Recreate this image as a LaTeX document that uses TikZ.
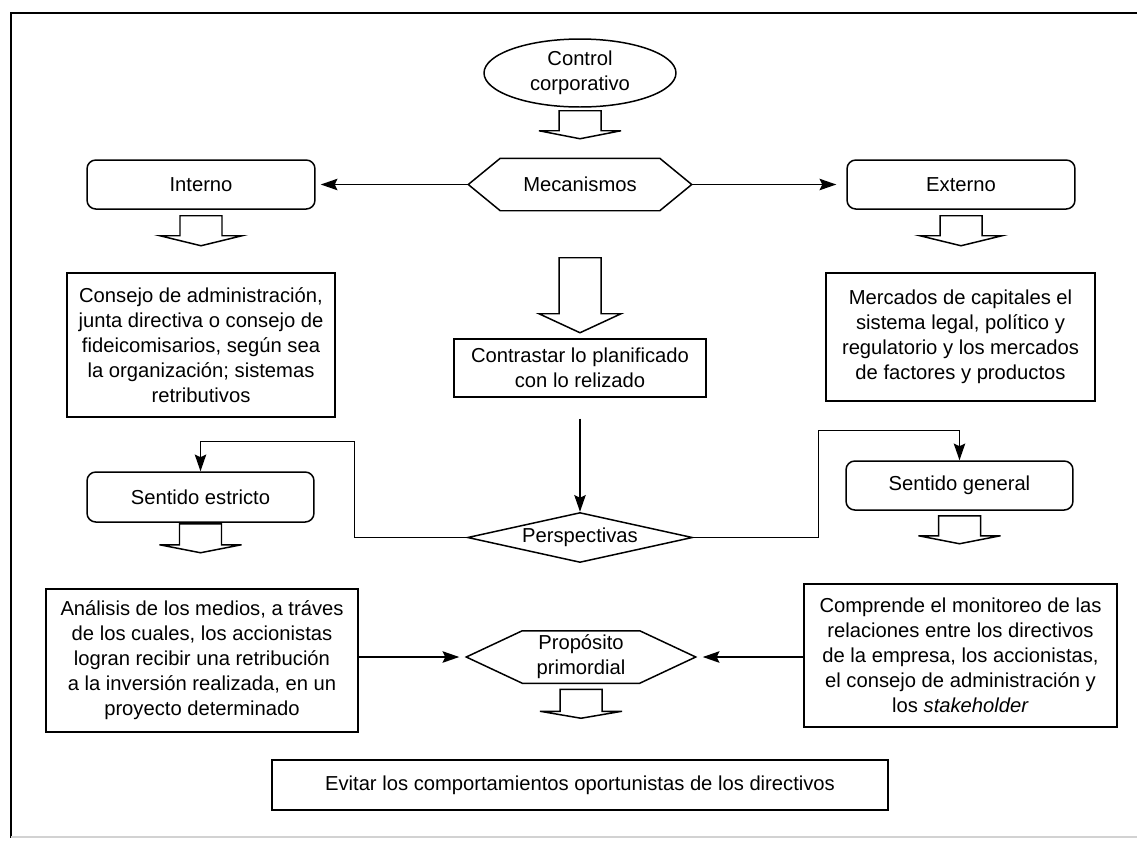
\documentclass[tikz,border=0pt]{standalone}
\usepackage{fontspec}
\setmainfont{Liberation Sans}
\usetikzlibrary{shapes.geometric,arrows.meta,calc}

% hollow down arrow under a node: anchor, gap, shaft length, head length
\newcommand\blockdown[4]{%
  \draw[blk] ([shift={(-21,#2)}]#1) -- ++(0,#3) -- ++(-20,0) -- ++(41,#4) -- ++(41,-#4) -- ++(-20,0) -- ++(0,-#3) -- cycle;}
% six-sided frame round a node: name, cut at the corners
\newcommand\hexframe[2]{%
  \draw (#1.west) -- ([xshift=#2]#1.north west) -- ([xshift=-#2]#1.north east) -- (#1.east)
    -- ([xshift=-#2]#1.south east) -- ([xshift=#2]#1.south west) -- cycle;}

\begin{document}
\begin{tikzpicture}[x=0.02cm, y=-0.02cm, font=\fontsize{11.5}{14.2}\selectfont, line width=0.85pt,
    box/.style ={draw, align=center, inner sep=2pt},
    rbox/.style={draw, rounded corners=5pt, align=center},
    hexa/.style={align=center, inner sep=0pt, minimum height=1.02cm},
    conn/.style={-{Stealth[length=9.5pt,width=6.5pt,inset=1.5pt]}},
    blk/.style ={line width=0.85pt},
  ]
  \useasboundingbox (0,0) rectangle (1137,840);
  \draw[line width=1.2pt] (1137,13) -- (11,13) -- (11,838);
  \draw[gray!35] (11,837) -- (1137,837);

  % control and mechanisms
  \node[draw, ellipse, minimum width=3.84cm, minimum height=1.36cm, inner sep=0pt, align=center] (ctrl) at (580,73) {Control\\corporativo};
  \node[hexa, minimum width=4.44cm] (mec) at (580,184.5) {Mecanismos};
  \hexframe{mec}{0.64cm}
  \node[rbox, minimum width=4.56cm, minimum height=0.98cm] (intr) at (201,184.5) {Interno};
  \node[rbox, minimum width=4.56cm, minimum height=0.98cm] (extr) at (961,184.5) {Externo};
  \draw[conn, shorten >=0.1cm] (mec.west) -- (intr.east);
  \draw[conn, shorten >=0.2cm] (mec.east) -- (extr.west);
  \blockdown{ctrl.south}{3}{20}{8}
  \blockdown{intr.south}{6}{20}{10}
  \blockdown{extr.south}{6}{20}{10}
  \blockdown{mec.south}{47}{56}{19}

  % text boxes under the mechanisms
  \node[box, minimum width=5.36cm, minimum height=2.88cm] (cons) at (201,345)
    {Consejo de administración,\\junta directiva o consejo de\\fideicomisarios, según sea\\la organización; sistemas\\retributivos};
  \node[box, minimum width=5.38cm, minimum height=2.56cm] (merc) at (960.5,337)
    {Mercados de capitales el\\sistema legal, político y\\regulatorio y los mercados\\de factores y productos};
  \node[box, minimum width=5.04cm, minimum height=1.16cm] (contr) at (580,368)
    {Contrastar lo planificado\\con lo relizado};

  % perspectives
  \node[draw, diamond, aspect=4.5, minimum width=4.5cm, minimum height=1cm, inner sep=0pt] (persp) at (580,537.5) {Perspectivas};
  \node[rbox, minimum width=4.54cm, minimum height=1cm] (estr) at (200.5,497) {Sentido estricto};
  \node[rbox, minimum width=4.54cm, minimum height=0.98cm] (genl) at (959.5,485.5) {Sentido general};
  \draw[conn] ([yshift=-0.42cm]contr.south) -- (persp.north);
  \draw[conn] (persp.west) -| ($(estr.north)+(154,-30)$) -| (estr.north);
  \draw[conn] (persp.east) -| ($(genl.north)+(-141,-30)$) -| (genl.north);
  \blockdown{estr.south}{1}{21}{8}
  \blockdown{genl.south}{5}{20}{8}

  % purpose
  \node[box, minimum width=6.24cm, minimum height=2.86cm] (anal) at (202,660.5)
    {Análisis de los medios, a tráves\\de los cuales, los accionistas\\logran recibir una retribución\\a la inversión realizada, en un\\proyecto determinado};
  \node[box, minimum width=6.26cm, minimum height=2.86cm] (comp) at (960.5,655.5)
    {Comprende el monitoreo de las\\relaciones entre los directivos\\de la empresa, los accionistas,\\el consejo de administración y\\los \textit{stakeholder}};
  \node[hexa, minimum width=4.56cm] (prop) at (581,657) {Propósito\\primordial};
  \hexframe{prop}{1.12cm}
  \draw[conn, shorten >=0.14cm] (anal.east |- prop.west) -- (prop.west);
  \draw[conn, shorten >=0.14cm] (comp.west |- prop.east) -- (prop.east);
  \blockdown{prop.south}{6}{22}{7}
  \node[box, minimum width=12.32cm, minimum height=1cm] (evit) at (580,785)
    {Evitar los comportamientos oportunistas de los directivos};
\end{tikzpicture}
\end{document}
